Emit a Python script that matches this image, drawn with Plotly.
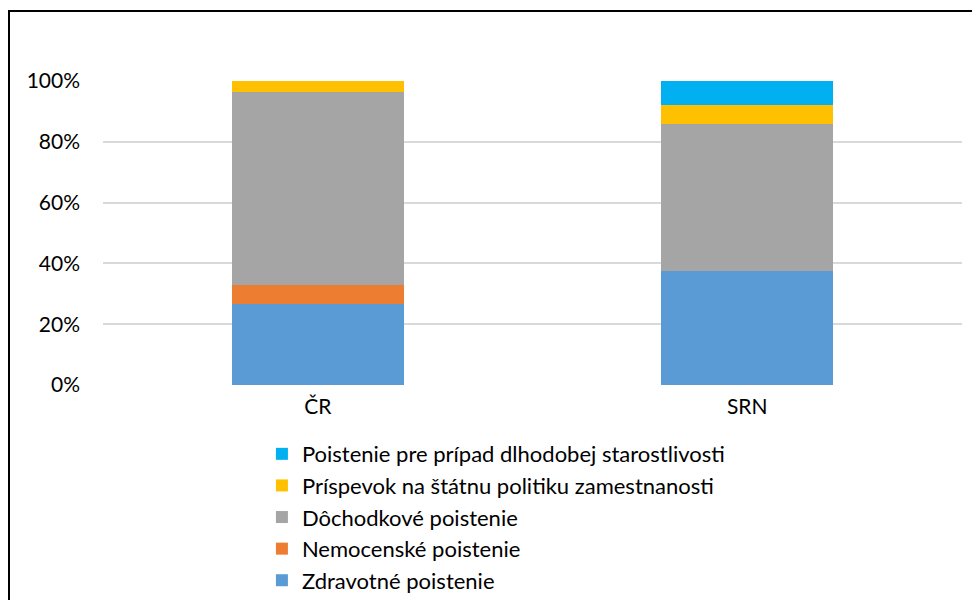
import plotly.graph_objects as go

categories = ["ČR", "SRN"]
series_names = [
    "Zdravotné poistenie",
    "Nemocenské poistenie",
    "Dôchodkové poistenie",
    "Príspevok na štátnu politiku zamestnanosti",
    "Poistenie pre prípad dlhodobej starostlivosti",
]
zdravotne = [26.6, 37.6]
nemocenske = [6.2, 0.0]
dochodkove = [63.6, 48.4]
prispevok = [3.6, 6.1]
starostlivost = [0.0, 7.9]
colors = ["#5b9bd5", "#ed7d31", "#a5a5a5", "#ffc000", "#00b0f0"]
y_ticks = [0, 20, 40, 60, 80, 100]
y_tick_labels = ["0%", "20%", "40%", "60%", "80%", "100%"]

values = [zdravotne, nemocenske, dochodkove, prispevok, starostlivost]

fig = go.Figure()
for name, vals, col in zip(series_names, values, colors):
    fig.add_trace(go.Bar(
        x=categories, y=vals, name=name,
        marker=dict(color=col, line=dict(width=0)),
        hoverinfo="skip",
    ))

FONT = "Lato, 'DejaVu Sans', sans-serif"
fig.update_layout(
    width=980, height=600,
    barmode="stack", bargap=0.6,
    margin=dict(l=95, r=26, t=73, b=223, autoexpand=False),
    paper_bgcolor="white", plot_bgcolor="white",
    font=dict(family=FONT, size=21, color="#000000"),
    showlegend=True,
    legend=dict(
        orientation="v", traceorder="reversed",
        x=0.185, xanchor="left", y=-0.158, yanchor="top",
        font=dict(family=FONT, size=22, color="#000000"),
        bgcolor="rgba(0,0,0,0)", tracegroupgap=0,
    ),
    xaxis=dict(
        showgrid=False, showline=False, zeroline=False,
        tickfont=dict(family=FONT, size=21),
        ticks="", ticklabelstandoff=7,
    ),
    yaxis=dict(
        range=[0, 100], tickvals=y_ticks, ticktext=y_tick_labels,
        showgrid=True, gridcolor="#d9d9d9", gridwidth=2,
        zeroline=False, showline=False, ticks="",
        tickfont=dict(family=FONT, size=21),
        ticklabelstandoff=22,
    ),
    shapes=[dict(
        type="rect", xref="paper", yref="paper",
        x0=(1 - 95) / 859, x1=1.5,
        y0=-1.5, y1=1 + 70 / 304,
        line=dict(color="#000000", width=2),
        fillcolor="rgba(0,0,0,0)", layer="below",
    )],
)

fig.write_html("out.html")
